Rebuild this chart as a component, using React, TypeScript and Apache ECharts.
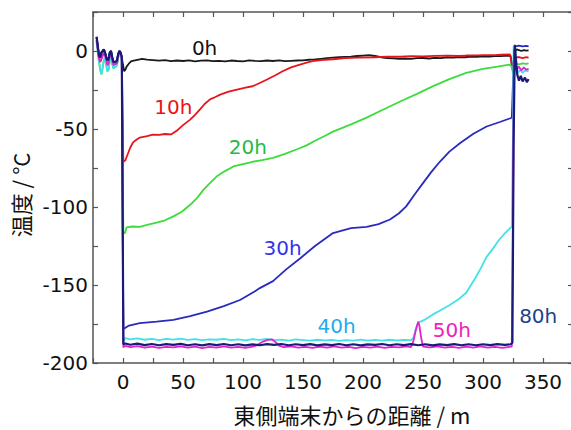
import React, { useEffect, useRef } from "react";
import * as echarts from "echarts";

type P = [number, number];

const seriesNames = ["0h", "10h", "20h", "30h", "40h", "50h", "80h"];
const lineColors = ["#1a1a1a", "#e8141c", "#3ddc3d", "#2a2ac0", "#40e2e6", "#e024d0", "#1a1a78"];
const labelColors = ["#111111", "#ee1111", "#22bb44", "#3333ee", "#22aaee", "#ee22bb", "#224488"];

const stubDark: P[] = [[-22, 9], [-21, 3], [-20, -3], [-19, -4], [-18, -1], [-16, 1], [-15, -1], [-14, -4], [-13, -6], [-12, -5], [-11, -1], [-10, 0], [-9, -4], [-8, -7], [-6, -7], [-5, -6], [-4, -2], [-3, 0], [-2, -1], [-1, -4]];
const stubLow: P[] = [[-22, 6], [-21, 0], [-20, -7], [-19, -12], [-18, -15], [-17, -11], [-16, -6], [-15, -4], [-14, -9], [-13, -13], [-12, -12], [-11, -6], [-10, -3], [-9, -8], [-8, -11], [-6, -10], [-5, -9], [-4, -4], [-3, -2], [-2, -3], [-1, -6]];
const stubMid: P[] = [[-22, 7], [-21, 1], [-20, -5], [-19, -7], [-18, -5], [-16, -1], [-15, -2], [-14, -6], [-13, -9], [-12, -8], [-11, -3], [-10, -2], [-9, -6], [-8, -9], [-6, -8], [-5, -8], [-4, -3], [-3, -1], [-2, -2], [-1, -5]];

const data0h: P[] = [[0, -9], [1, -13], [2, -12], [3, -10], [5, -8], [7, -6.5], [10, -6], [13, -5.5], [16, -5], [20, -5.5], [25, -5.8], [30, -6.2], [35, -5.9], [40, -6.5], [45, -6.1], [50, -6.4], [55, -6], [60, -6.6], [65, -6.2], [70, -6], [75, -6.5], [80, -6.3], [85, -6.7], [90, -6.1], [95, -6.4], [100, -6.6], [105, -6], [110, -6.3], [115, -6.5], [120, -6.1], [125, -6.4], [130, -6], [135, -6.5], [140, -6.3], [145, -6.1], [150, -6], [155, -5.6], [160, -5.4], [165, -5], [170, -4.6], [175, -4.3], [180, -4], [185, -3.8], [190, -3.6], [195, -3.2], [200, -2.9], [205, -2.7], [210, -3.2], [215, -4], [220, -4.5], [225, -4.7], [230, -5], [235, -4.8], [240, -5], [245, -4.6], [250, -4.5], [255, -4.8], [260, -4.4], [265, -4.6], [270, -4.1], [275, -4.3], [280, -3.9], [285, -4], [290, -3.6], [295, -3.8], [300, -3.4], [305, -3.6], [310, -3.2], [315, -3.3], [320, -3], [323, -3.2], [324, -9], [325, -13], [326, -4], [327, 0], [328, 1], [330, 0.5], [332, 0], [334, 0.6], [336, 0.2], [338, 0.4]];

const data10h: P[] = [[0.3, -71], [2, -70], [4, -66], [6, -62], [8, -59], [10, -57.5], [14, -55.5], [20, -54.5], [25, -53.6], [30, -53.8], [35, -53.2], [40, -53.5], [45, -51], [50, -47.5], [56, -44], [60, -41], [64, -37.6], [68, -34], [72.5, -31], [77, -29.5], [81, -28], [88, -26], [95, -24.7], [102, -23.5], [108, -22.6], [114, -20.5], [120, -18.3], [127, -15.5], [133, -13], [140, -10.5], [147.5, -8.7], [153, -7.5], [158, -6.5], [165, -5.8], [175, -5.3], [185, -4.5], [195, -4.2], [210, -4], [220, -3.6], [231, -3.7], [240, -3.3], [250, -3.4], [260, -3.1], [270, -3], [280, -3.2], [286, -2.9], [295, -2.8], [300, -2.6], [310, -2.7], [315, -2.4], [322.5, -2.2], [324, -8], [325, -12], [326, -6], [327, -4], [330, -4], [333, -4.5], [336, -4], [338, -4.2]];

const data20h: P[] = [[0.3, -117], [1.7, -116.6], [3, -113], [8, -112.5], [14, -112.7], [20, -111.5], [28, -110], [35, -108.5], [42, -106], [49, -103], [56, -98.6], [62, -94], [67, -89], [72, -85], [78, -80.5], [85, -77], [92, -74], [100, -72.5], [108, -71], [116, -70], [125, -68.5], [135, -66], [145, -63], [153, -60.5], [160, -57.5], [168, -54.5], [175, -51.7], [190, -47], [203, -42.7], [217, -37.5], [231, -32.4], [245, -27.5], [258, -22.7], [272, -18], [286, -14], [300, -11.5], [312, -10], [322, -8.7], [324, -10], [325, -14], [326, -9], [327, -8], [330, -8.5], [333, -8], [336, -8.3], [338, -8]];

const data30h: P[] = [[0.3, -178], [1.7, -177.6], [5, -176], [14, -174.4], [28, -173.5], [42, -172.4], [56, -170], [70, -167], [84, -163.5], [97.5, -159.6], [110, -154], [114, -152], [125, -147.5], [136, -140], [147.5, -133], [160, -125], [175, -116.7], [190, -113.5], [203, -112.7], [213, -111], [222.5, -108], [230, -104], [236, -99.6], [243, -92], [250, -84.7], [257, -77.5], [264, -71], [272, -64.5], [281, -59], [292, -53], [303, -48.4], [314, -45.5], [324, -42.8], [325, -20], [326, 2], [327, 3], [330, 3.5], [333, 3], [336, 3.3], [338, 3]];

const data40h: P[] = [[0.3, -186], [2, -184], [6, -184.8], [12, -184.2], [18, -185.1], [24, -184.5], [30, -185.3], [36, -184.6], [42, -185], [48, -184.4], [54, -185.2], [60, -184.7], [66, -185.4], [72, -184.8], [78, -185.1], [84, -184.5], [90, -185.3], [96, -184.9], [102, -185.5], [108, -184.7], [114, -185.2], [120, -184.6], [126, -185.4], [132, -185], [138, -185.6], [144, -184.9], [150, -185.3], [156, -185.7], [162, -185.1], [168, -185.5], [174, -185.2], [180, -185.8], [186, -185.3], [192, -185.6], [198, -185], [204, -185.7], [210, -185.2], [216, -185.6], [222, -185.1], [228, -185.5], [234, -185.2], [240, -185.4], [242, -184], [244, -178], [246, -174], [248, -173.5], [252, -172], [258, -169], [265, -166], [272, -163], [279, -159.5], [286, -155], [290, -150], [294, -145], [298, -139.5], [303, -132], [308, -127], [313, -121.5], [318, -117], [322, -114], [324, -112.5], [325, -50], [325.5, 3], [327, 0], [328, -9], [329, -14], [331, -12], [333, -14], [335, -12.5], [338, -13]];

const data50h: P[] = [[0.3, -190], [2, -189], [6, -189.8], [12, -189.2], [18, -190.1], [24, -189.5], [30, -190.3], [36, -189.6], [42, -190], [48, -189.4], [54, -190.2], [60, -189.5], [66, -190.4], [72, -189.7], [78, -190.1], [84, -189.4], [90, -190.2], [96, -189.6], [102, -190.3], [108, -189.5], [112, -188.5], [116, -186.5], [120, -185.3], [124, -184.8], [127, -186.5], [130, -188.8], [134, -189.8], [140, -189.4], [146, -190.2], [152, -189.6], [158, -190.3], [164, -189.5], [170, -190.1], [176, -189.4], [182, -190.2], [188, -189.6], [194, -190.4], [200, -189.7], [206, -190.1], [212, -189.5], [218, -190.3], [224, -189.6], [230, -190], [236, -189.4], [240, -189.8], [242, -186], [244, -179], [246, -173.5], [247, -176], [248.5, -184], [250, -189.5], [256, -190], [262, -189.4], [268, -190.2], [274, -189.6], [280, -190.3], [286, -189.5], [292, -190.1], [298, -189.4], [304, -190.2], [310, -189.6], [316, -190.3], [322, -189.7], [324, -189.5], [325, -100], [325.8, 1], [327, -6], [328, -12], [330, -10], [332, -12.5], [334, -10.5], [336, -12], [338, -11.5]];

const data80h: P[] = [[0.3, -188], [2, -187.5], [6, -188.3], [12, -187.6], [18, -188.5], [24, -187.8], [30, -188.6], [36, -187.9], [42, -188.4], [48, -187.7], [54, -188.6], [60, -188], [66, -188.7], [72, -187.9], [78, -188.5], [84, -187.8], [90, -188.6], [96, -188], [102, -188.7], [108, -188.1], [114, -188.6], [120, -187.9], [126, -188.4], [132, -187.8], [138, -188.6], [144, -188], [150, -188.5], [156, -187.9], [162, -188.7], [168, -188.1], [174, -188.5], [180, -187.8], [186, -188.6], [192, -188], [198, -188.7], [204, -188.1], [210, -188.4], [216, -187.8], [222, -188.6], [228, -188], [234, -188.5], [240, -187.9], [246, -188.6], [252, -188], [258, -188.7], [264, -188.1], [270, -188.5], [276, -187.9], [282, -188.6], [288, -188], [294, -188.6], [300, -188], [306, -188.5], [312, -187.9], [318, -188.4], [323, -188], [324.5, -187], [325.5, -60], [326.5, 4], [327.5, -6], [328.5, -15], [330, -19], [331.5, -16], [333, -19.5], [335, -17], [336.5, -20], [338, -18]];

const seriesData: P[][] = [
  [...stubDark, ...data0h],
  [...stubMid, ...data10h],
  [...stubLow, ...data20h],
  [...stubDark, ...data30h],
  [...stubLow, ...data40h],
  [...stubMid, ...data50h],
  [...stubDark, ...data80h],
];

// label anchor positions in data units [x, y]
const labelPos: P[] = [[68, 2], [42, -36], [104, -61.5], [133, -126], [178, -176], [274, -179], [346, -170]];

const X_TITLE = "東側端末からの距離 / m";
const Y_TITLE = "温度 / °C";

export default function App() {
  const ref = useRef<HTMLDivElement>(null);
  useEffect(() => {
    document.body.style.margin = "0";
    document.body.style.overflow = "hidden";
    const chart = echarts.init(ref.current!, null, { renderer: "svg" });
    const axisLine = { onZero: false, lineStyle: { color: "#555", width: 1.5 } };
    const tick = { show: true, inside: true, length: 5, lineStyle: { color: "#555", width: 1.2 } };
    const labelFont = { color: "#111", fontSize: 20, fontFamily: "DejaVu Sans" };
    const gridRect = { left: 93, top: 12, width: 480, height: 351 };
    chart.setOption({
      animation: false,
      grid: { ...gridRect, containLabel: false },
      xAxis: [
        {
          type: "value", min: -25, max: 375, interval: 25, position: "bottom",
          axisLine, axisTick: tick, splitLine: { show: false },
          axisLabel: { ...labelFont, margin: 9, showMaxLabel: false,
            formatter: (v: number) => (v >= 0 && v % 50 === 0 && v <= 350 ? String(v) : "") },
        },
        {
          type: "value", min: -25, max: 375, interval: 25, position: "top",
          axisLine, axisTick: tick, splitLine: { show: false }, axisLabel: { show: false },
        },
      ],
      yAxis: [
        {
          type: "value", min: -200, max: 25, interval: 25, position: "left",
          axisLine, axisTick: tick, splitLine: { show: false },
          axisLabel: { ...labelFont, margin: 5,
            formatter: (v: number) => (v % 50 === 0 && v <= 0 ? String(v) : "") },
        },
        {
          type: "value", min: -200, max: 25, interval: 25, position: "right",
          axisLine, axisTick: tick, splitLine: { show: false }, axisLabel: { show: false },
        },
      ],
      series: seriesNames.map((name, i) => ({
        name, type: "line", data: seriesData[i], showSymbol: false, symbol: "none",
        xAxisIndex: 0, yAxisIndex: 0, z: 2 + i,
        lineStyle: { color: lineColors[i], width: i === 6 ? 2.2 : 1.8 },
        markPoint: {
          symbol: "circle", symbolSize: 0, silent: true,
          data: [{ coord: labelPos[i], value: name }],
          label: { show: true, position: "inside", formatter: name, color: labelColors[i],
            fontSize: 20, fontFamily: "DejaVu Sans" },
        },
      })),
      graphic: [
        { type: "text", x: 352, y: 414, style: { text: X_TITLE, fill: "#111",
          font: '22px "Noto Sans CJK JP"', textAlign: "center", textVerticalAlign: "middle" } },
        { type: "text", x: 20, y: 195, rotation: Math.PI / 2, style: { text: Y_TITLE, fill: "#111",
          font: '22px "Noto Sans CJK JP"', textAlign: "center", textVerticalAlign: "middle" } },
      ],
    });
    return () => chart.dispose();
  }, []);
  return <div ref={ref} style={{ width: 580, height: 430 }} />;
}
